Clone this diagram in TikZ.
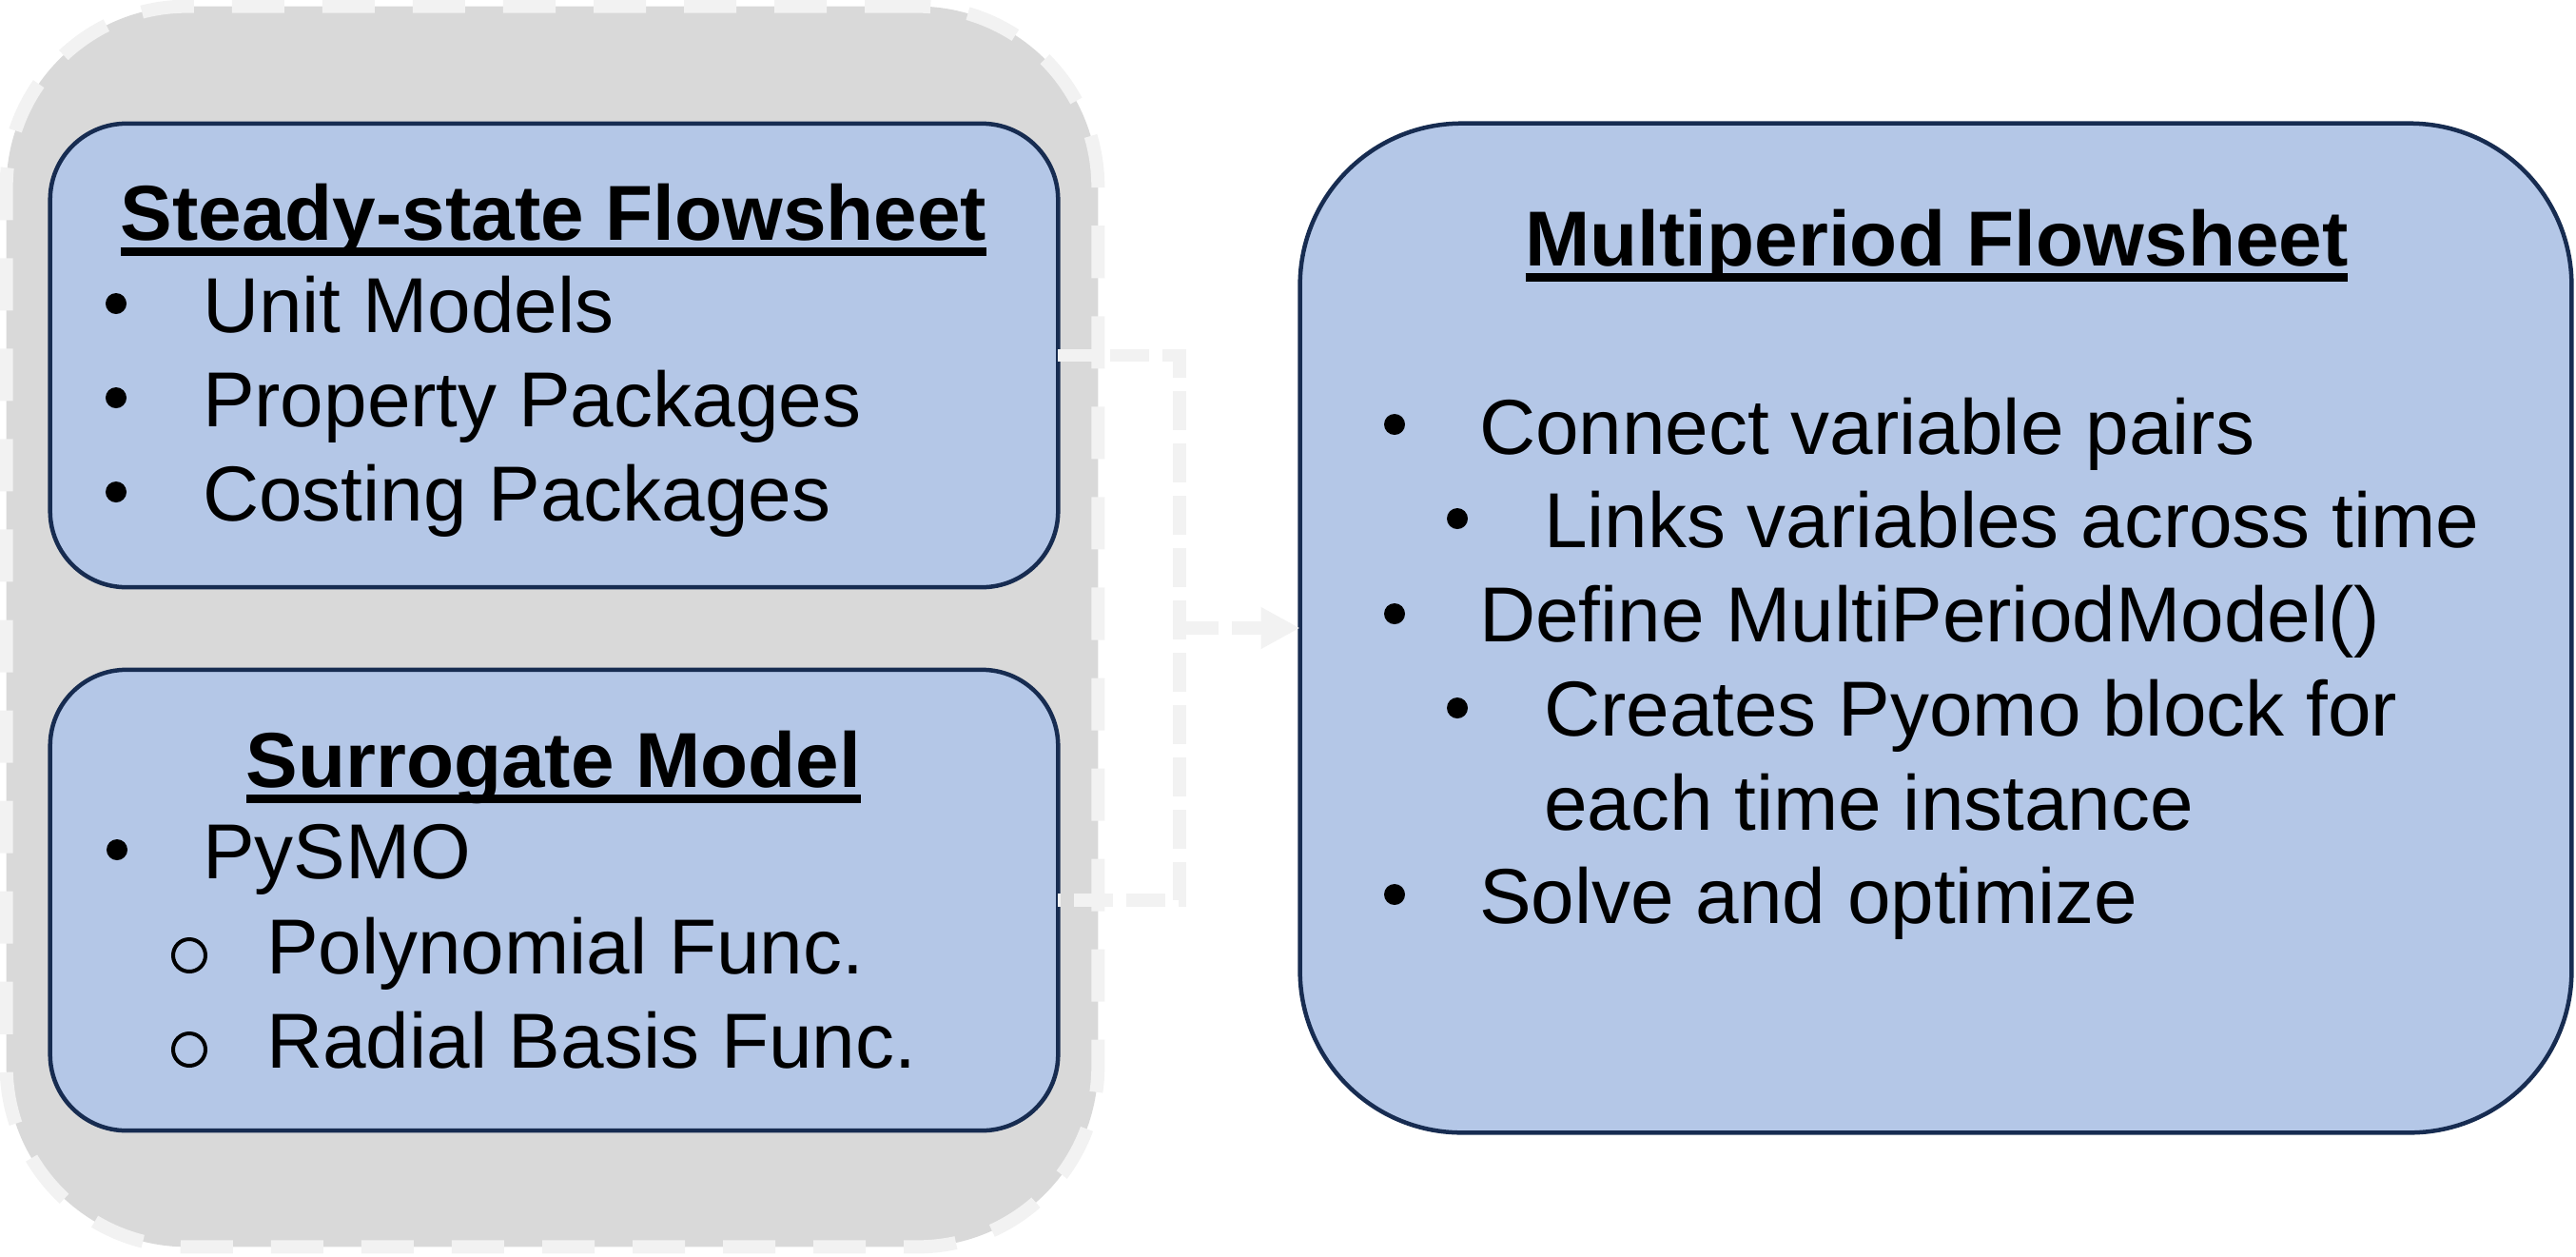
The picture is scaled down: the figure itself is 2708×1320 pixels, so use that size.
\documentclass[tikz,border=0pt]{standalone}
\usepackage{fontspec}
\setmainfont{Liberation Sans}
\usetikzlibrary{arrows.meta}
\definecolor{boxfill}{HTML}{B4C7E7}
\definecolor{boxline}{HTML}{172C51}
\definecolor{grpfill}{HTML}{D9D9D9}
\definecolor{dashcol}{HTML}{F2F2F2}
\newcommand\ulbox[1]{\setbox0\hbox{#1}\rlap{\rule[-0.165cm]{\wd0}{0.09cm}}\box0}
\tikzset{
  grpbox/.style={draw=dashcol, fill=grpfill, line width=0.14cm, dash pattern=on 0.55cm off 0.40cm, rounded corners=1.9cm, inner sep=0pt, outer sep=0pt},
  bluebox/.style={draw=boxline, fill=boxfill, line width=0.045cm, inner sep=0pt, outer sep=0pt},
  txt/.style={inner sep=0pt, outer sep=0pt, anchor=base west, font=\fontsize{23.3}{28}\selectfont},
  ttl/.style={inner sep=0pt, outer sep=0pt, anchor=base, font=\fontsize{23.3}{28}\selectfont\bfseries},
  bul/.style={fill=black, circle, inner sep=0pt, minimum size=0.22cm},
  obul/.style={draw=black, line width=0.04cm, circle, inner sep=0pt, minimum size=0.34cm},
  conn/.style={draw=dashcol, line width=0.135cm, dash pattern=on 0.41cm off 0.14cm},
}
\begin{document}
\begin{tikzpicture}[x=0.01cm,y=-0.01cm]
\useasboundingbox (0,0) rectangle (2708,1320);
% group background
\node[grpbox, minimum width=11.47cm, minimum height=13.03cm] (grp) at (580.5,658.5) {};
% boxes
\node[bluebox, rounded corners=0.8cm, minimum width=10.59cm, minimum height=4.87cm] (b1) at (582.5,373.5) {};
\node[bluebox, rounded corners=0.8cm, minimum width=10.59cm, minimum height=4.84cm] (b2) at (582.5,946) {};
\node[bluebox, rounded corners=1.7cm, minimum width=13.36cm, minimum height=10.60cm] (b3) at (2035,660) {};
% connectors
\coordinate (jx) at (1240,660);
\draw[conn] (b1.east) -| (jx) |- (b2.east);
\draw[conn, -{Triangle[length=0.41cm,width=0.41cm,fill=dashcol]}] (jx) -- (b3.west);
% box 1 text
\node[ttl] (t1) at (582,252) {\ulbox{Steady-state Flowsheet}};
\node[bul] (u11) at (122,319) {};
\node[txt] (t11) at (213,349) {Unit Models};
\node[bul] (u12) at (122,418) {};
\node[txt] (t12) at (213,448) {Property Packages};
\node[bul] (u13) at (122,517) {};
\node[txt] (t13) at (213,547) {Costing Packages};
% box 2 text
\node[ttl] (t2) at (582,827) {\ulbox{Surrogate Model}};
\node[bul] (u21) at (123,893) {};
\node[txt] (t21) at (213,923) {PySMO};
\node[obul] (o22) at (199,1004) {};
\node[txt] (t22) at (280,1023) {Polynomial Func.};
\node[obul] (o23) at (199,1103) {};
\node[txt] (t23) at (280,1122) {Radial Basis Func.};
% box 3 text
\node[ttl] (t3) at (2036,279) {\ulbox{Multiperiod Flowsheet}};
\node[bul] (u31) at (1466,446) {};
\node[txt] (t31) at (1555,477) {Connect variable pairs};
\node[bul] (u32) at (1532,545) {};
\node[txt] (t32) at (1623,575) {Links variables across time};
\node[bul] (u33) at (1466,645) {};
\node[txt] (t33) at (1555,674) {Define MultiPeriodModel()};
\node[bul] (u34) at (1532,744) {};
\node[txt] (t34) at (1623,773) {Creates Pyomo block for};
\node[txt] (t35) at (1623,872) {each time instance};
\node[bul] (u36) at (1466,940) {};
\node[txt] (t36) at (1555,970) {Solve and optimize};
\end{tikzpicture}
\end{document}
